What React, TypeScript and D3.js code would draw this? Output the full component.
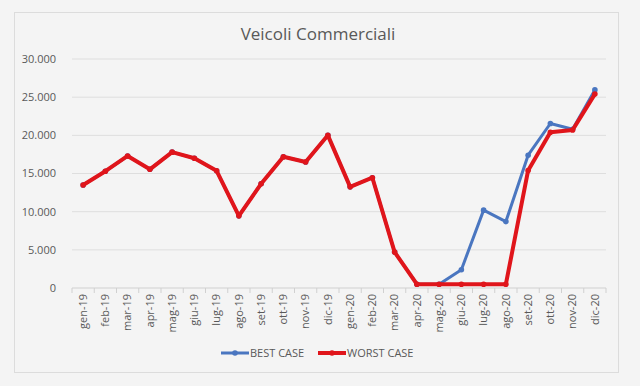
import * as React from "react";
import { scaleBand, scaleLinear, line } from "d3";

const months = [
  "gen-19", "feb-19", "mar-19", "apr-19", "mag-19", "giu-19", "lug-19", "ago-19",
  "set-19", "ott-19", "nov-19", "dic-19", "gen-20", "feb-20", "mar-20", "apr-20",
  "mag-20", "giu-20", "lug-20", "ago-20", "set-20", "ott-20", "nov-20", "dic-20",
];

const bestCase = [
  13500, 15300, 17300, 15550, 17800, 17000, 15350, 9450,
  13650, 17200, 16500, 20000, 13250, 14450, 4700, 500,
  500, 2400, 10200, 8700, 17400, 21550, 20800, 25950,
];

const worstCase = [
  13500, 15300, 17300, 15550, 17800, 17000, 15350, 9450,
  13650, 17200, 16500, 20000, 13250, 14450, 4700, 500,
  500, 500, 500, 500, 15400, 20400, 20700, 25400,
];

const yTicks = [0, 5000, 10000, 15000, 20000, 25000, 30000];

const series = [
  { name: "BEST CASE", values: bestCase, color: "#4a76c0", width: 3 },
  { name: "WORST CASE", values: worstCase, color: "#e0151b", width: 4 },
];

const fmt = (v: number) => v.toLocaleString("it-IT").replace(/\s/g, ".");

const App = () => {
  const W = 640;
  const H = 386;
  const left = 72;
  const right = 606;
  const top = 59;
  const bottom = 288;

  const x = scaleBand().domain(months).range([left, right]);
  const y = scaleLinear().domain([0, 30000]).range([bottom, top]);
  const cx = (m: string) => (x(m) as number) + x.bandwidth() / 2;

  const path = line<number>()
    .x((_, i) => cx(months[i]))
    .y((d) => y(d));

  const font = "'Open Sans', 'Noto Sans', sans-serif";

  return (
    <svg
      width={W}
      height={H}
      style={{ position: "absolute", left: 0, top: 0, fontFamily: font }}
    >
      <rect x={0} y={0} width={W} height={H} fill="#f4f4f4" />
      <rect x={14.5} y={12.5} width={604} height={360} fill="#f4f4f4" stroke="#dcdcdc" />
      <text x={318} y={40} textAnchor="middle" fontSize={17} fill="#595959">
        Veicoli Commerciali
      </text>

      {yTicks.map((t) => (
        <g key={t}>
          {t > 0 && (
            <line x1={left} x2={right} y1={y(t)} y2={y(t)} stroke="#dedede" strokeWidth={1} />
          )}
          <text x={56} y={y(t)} dy="0.35em" textAnchor="end" fontSize={11} fill="#595959">
            {t === 0 ? "0" : fmt(t)}
          </text>
        </g>
      ))}

      <line x1={left} x2={right} y1={bottom} y2={bottom} stroke="#d0d0d0" />
      {months.map((m) => (
        <line key={"t" + m} x1={x(m)} x2={x(m)} y1={bottom} y2={bottom + 5} stroke="#d0d0d0" />
      ))}
      <line x1={right} x2={right} y1={bottom} y2={bottom + 5} stroke="#d0d0d0" />

      {months.map((m) => (
        <text
          key={m}
          transform={`translate(${cx(m)},${bottom + 6}) rotate(-90)`}
          textAnchor="end"
          dy="0.35em"
          fontSize={11}
          fill="#595959"
        >
          {m}
        </text>
      ))}

      {series.map((s) => (
        <g key={s.name}>
          <path d={path(s.values) as string} fill="none" stroke={s.color} strokeWidth={s.width} strokeLinejoin="round" />
          {s.values.map((v, i) => (
            <circle key={i} cx={cx(months[i])} cy={y(v)} r={2.8} fill={s.color} />
          ))}
        </g>
      ))}

      {series.map((s, i) => {
        const lx = i === 0 ? 221 : 318;
        return (
          <g key={"lg" + s.name}>
            <line x1={lx} x2={lx + 28} y1={353} y2={353} stroke={s.color} strokeWidth={s.width} />
            <circle cx={lx + 14} cy={353} r={2.8} fill={s.color} />
            <text x={lx + 29} y={353} dy="0.35em" fontSize={11} fill="#595959">
              {s.name}
            </text>
          </g>
        );
      })}
    </svg>
  );
};

export default App;
